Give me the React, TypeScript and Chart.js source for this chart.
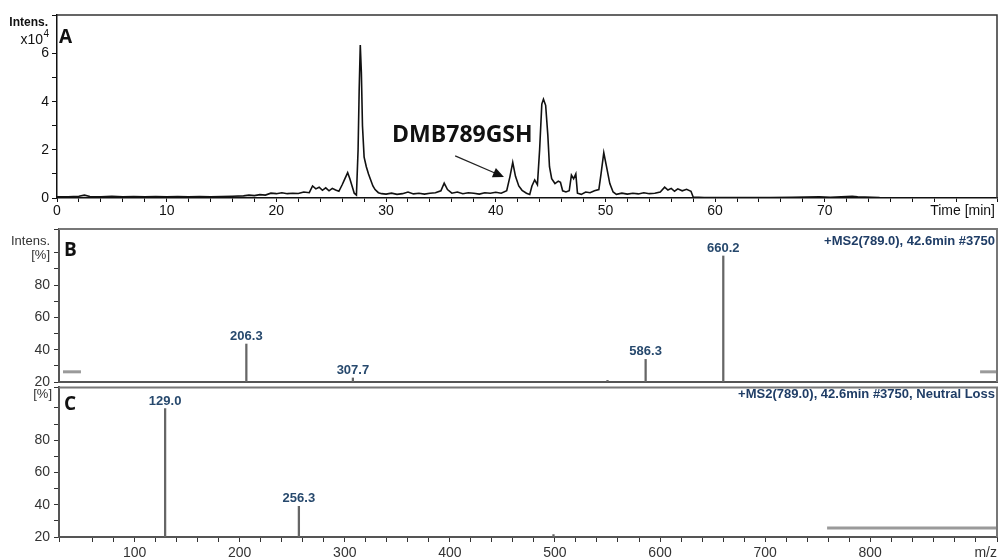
import React, { useEffect, useRef } from "react";
import { Chart, registerables } from "chart.js";
Chart.register(...registerables);

// ---------- Panel A: chromatogram (time in min, intensity x10^4) ----------
const chromTime = [
  0, 1, 2, 2.5, 3, 4, 5, 6, 7, 8, 9, 10, 11, 12, 13, 14, 15, 16, 17, 17.5, 18, 18.5, 19, 19.5,
  20, 20.5, 21, 21.5, 22, 22.5, 23, 23.3, 23.6, 23.9, 24.2, 24.5, 24.8, 25.1, 25.4, 25.7,
  26.0, 26.2, 26.5, 26.7, 26.9, 27.1, 27.3, 27.45, 27.55, 27.65, 27.75, 27.85, 28.0, 28.2,
  28.4, 28.6, 28.8, 29.0, 29.3, 29.6, 30, 30.5, 31, 31.5, 32, 32.5, 33, 33.5, 34, 34.5,
  35.0, 35.3, 35.6, 36, 36.5, 37, 37.5, 38, 38.5, 39, 39.5, 40, 40.5, 41.0, 41.3, 41.55,
  41.8, 42.1, 42.4, 42.8, 43.1, 43.3, 43.55, 43.8, 44.0, 44.2, 44.35, 44.55, 44.75, 44.9,
  45.1, 45.4, 45.7, 45.9, 46.1, 46.4, 46.7, 46.9, 47.1, 47.3, 47.45, 47.8, 48.2, 48.6,
  49.0, 49.4, 49.6, 49.85, 50.1, 50.4, 50.7, 51, 51.5, 52, 52.5, 53, 53.5, 54, 54.5, 55,
  55.4, 55.7, 56, 56.3, 56.6, 57, 57.4, 57.8, 58, 59, 61, 63, 65, 67, 69.5, 70.5, 72.5, 73, 75,
];
const chromIntensity = [
  0.05, 0.05, 0.07, 0.12, 0.06, 0.05, 0.07, 0.05, 0.06, 0.05, 0.06, 0.05, 0.06, 0.05, 0.06, 0.05, 0.06, 0.07, 0.09, 0.12, 0.1, 0.14, 0.12, 0.2,
  0.18, 0.22, 0.18, 0.2, 0.19, 0.25, 0.22, 0.5, 0.38, 0.45, 0.32, 0.42, 0.3, 0.4, 0.33, 0.28,
  0.55, 0.75, 1.05, 0.8, 0.5, 0.2, 0.12, 2.0, 4.5, 6.35, 5.2, 3.0, 1.7, 1.3,
  1.0, 0.75, 0.5, 0.35, 0.22, 0.18, 0.16, 0.2, 0.15, 0.18, 0.25, 0.17, 0.2, 0.16, 0.2, 0.22,
  0.3, 0.62, 0.35, 0.2, 0.25, 0.18, 0.22, 0.2, 0.16, 0.22, 0.2, 0.24, 0.2, 0.3, 0.9, 1.48,
  0.9, 0.5, 0.32, 0.2, 0.15, 0.5, 0.75, 0.55, 2.0, 3.9, 4.1, 3.85, 2.6, 1.3,
  0.8, 0.6, 0.7, 0.65, 0.3, 0.25, 0.3, 0.95, 0.8, 1.0, 0.2, 0.15, 0.25, 0.22,
  0.3, 0.35, 1.0, 1.88, 1.3, 0.6, 0.25, 0.15, 0.2, 0.16, 0.2, 0.17, 0.22, 0.18, 0.2, 0.25,
  0.45, 0.33, 0.4, 0.28, 0.38, 0.3, 0.36, 0.28, 0.04, 0.02, 0.02, 0.02, 0.02, 0.03, 0.05, 0.03, 0.07, 0.05, 0.02,
];
const timeLabelMax = 70;

// ---------- Panel B: MS2 spectrum ----------
const msBMz = [206.3, 307.7, 550.0, 586.3, 660.2];
const msBIntensity = [43.5, 22.5, 21.0, 34.0, 98.0];
const msBLabels = ["206.3", "307.7", "", "586.3", "660.2"];
const msBRangeLeft = [31.8, 48.9];
const msBRangeRight = [904.6, 920.7];
const msBRangeLevel = 26.3;

// ---------- Panel C: neutral loss spectrum ----------
const msCMz = [129.0, 256.3, 498.6];
const msCIntensity = [99.5, 39.0, 21.5];
const msCLabels = ["129.0", "256.3", ""];
const msCRange = [759.0, 920.7];
const msCRangeLevel = 25.5;
const mzLabelMax = 800;

const W = 1001;
const SANS = "'Liberation Sans', Arial, sans-serif";
const LABEL_BLUE = "#27496d";

function drawText(
  ctx: CanvasRenderingContext2D,
  s: string,
  x: number,
  y: number,
  font: string,
  color: string,
  align: CanvasTextAlign = "left"
) {
  ctx.save();
  ctx.font = font;
  ctx.fillStyle = color;
  ctx.textAlign = align;
  ctx.textBaseline = "alphabetic";
  ctx.fillText(s, x, y);
  ctx.restore();
}

function fixedAxis(size: number, dir: "w" | "h") {
  return (scale: any) => {
    if (dir === "w") scale.width = size;
    else scale.height = size;
  };
}

function makeA(canvas: HTMLCanvasElement) {
  const framePlugin = {
    id: "frameA",
    afterDraw(chart: any) {
      const { ctx, chartArea: ca, scales } = chart;
      ctx.save();
      ctx.strokeStyle = "#333";
      ctx.lineWidth = 1.5;
      ctx.beginPath();
      ctx.moveTo(ca.left, ca.top);
      ctx.lineTo(ca.right, ca.top);
      ctx.lineTo(ca.right, ca.bottom);
      ctx.stroke();
      ctx.restore();
      drawText(ctx, "Intens.", 48, 26, `bold 12px ${SANS}`, "#111", "right");
      drawText(ctx, "x10", 43, 44, `14px ${SANS}`, "#111", "right");
      drawText(ctx, "4", 43.5, 37, `10px ${SANS}`, "#111", "left");
      drawText(ctx, "A", 59, 43, `bold 19px 'Open Sans', sans-serif`, "#111");
      drawText(ctx, "Time [min]", 995, 215, `14px ${SANS}`, "#111", "right");
      // annotation
      const x = scales.x, y = scales.y;
      drawText(ctx, "DMB789GSH", x.getPixelForValue(30.55), y.getPixelForValue(2.33), `bold 23px 'Open Sans', sans-serif`, "#111");
      const x1 = x.getPixelForValue(36.3), y1 = y.getPixelForValue(1.75);
      const x2 = x.getPixelForValue(40.75), y2 = y.getPixelForValue(0.875);
      const ang = Math.atan2(y2 - y1, x2 - x1);
      ctx.save();
      ctx.strokeStyle = "#222";
      ctx.fillStyle = "#111";
      ctx.lineWidth = 1.2;
      ctx.beginPath();
      ctx.moveTo(x1, y1);
      ctx.lineTo(x2 - 8 * Math.cos(ang), y2 - 8 * Math.sin(ang));
      ctx.stroke();
      ctx.beginPath();
      ctx.moveTo(x2, y2);
      ctx.lineTo(x2 - 11 * Math.cos(ang) + 5 * Math.sin(ang), y2 - 11 * Math.sin(ang) - 5 * Math.cos(ang));
      ctx.lineTo(x2 - 11 * Math.cos(ang) - 5 * Math.sin(ang), y2 - 11 * Math.sin(ang) + 5 * Math.cos(ang));
      ctx.closePath();
      ctx.fill();
      ctx.restore();
    },
  };
  return new Chart(canvas, {
    type: "line",
    data: {
      datasets: [
        {
          data: chromTime.map((t, i) => ({ x: t, y: chromIntensity[i] })),
          borderColor: "#111",
          borderWidth: 1.6,
          pointRadius: 0,
          tension: 0,
        },
      ],
    },
    options: {
      responsive: false,
      animation: false,
      layout: { padding: { top: 15, right: 4, left: 0, bottom: 0 } },
      plugins: { legend: { display: false }, tooltip: { enabled: false } },
      scales: {
        x: {
          type: "linear",
          min: 0,
          max: 85.7,
          afterFit: fixedAxis(22, "h"),
          border: { display: true, color: "#111", width: 1.5 },
          grid: { drawOnChartArea: false, drawTicks: true, tickLength: 4, color: "#111" },
          ticks: {
            stepSize: 2,
            autoSkip: false,
            maxRotation: 0,
            padding: 1,
            color: "#111",
            font: { family: SANS, size: 14 },
            callback: (v: any) => (Math.abs(v % 10) < 1e-6 && v <= timeLabelMax ? String(v) : ""),
          },
        },
        y: {
          type: "linear",
          min: 0,
          max: 7.6,
          afterFit: fixedAxis(57, "w"),
          border: { display: true, color: "#111", width: 1.5 },
          grid: { drawOnChartArea: false, drawTicks: true, tickLength: 5, color: "#111" },
          ticks: {
            stepSize: 1,
            autoSkip: false,
            padding: 3,
            color: "#111",
            font: { family: SANS, size: 14 },
            callback: (v: any) => (Math.abs(v % 2) < 1e-6 && v <= 6 ? String(v) : ""),
          },
        },
      },
    },
    plugins: [framePlugin],
  });
}

function makeSpectrum(
  canvas: HTMLCanvasElement,
  cfg: {
    mz: number[];
    inten: number[];
    labels: string[];
    ranges: number[][];
    rangeLevel: number;
    padTop: number;
    xHeight: number;
    yMax: number;
    showX: boolean;
    letter: string;
    letterY: number;
    title: string;
    titleY: number;
    yTitles: { s: string; x: number; y: number }[];
  }
) {
  const plugin = {
    id: "spec" + cfg.letter,
    afterDraw(chart: any) {
      const { ctx, chartArea: ca, scales } = chart;
      ctx.save();
      ctx.strokeStyle = "#777";
      ctx.lineWidth = 2;
      ctx.beginPath();
      ctx.moveTo(ca.left, ca.top);
      ctx.lineTo(ca.right, ca.top);
      ctx.lineTo(ca.right, ca.bottom);
      ctx.stroke();
      ctx.restore();
      cfg.labels.forEach((l, i) => {
        if (!l) return;
        const px = scales.x.getPixelForValue(cfg.mz[i]);
        const py = scales.y.getPixelForValue(cfg.inten[i]);
        drawText(ctx, l, px, py - 4, `bold 13px ${SANS}`, LABEL_BLUE, "center");
      });
      drawText(ctx, cfg.letter, 64, cfg.letterY, `bold 19px 'Open Sans', sans-serif`, "#111");
      drawText(ctx, cfg.title, 995, cfg.titleY, `bold 13px ${SANS}`, "#1f3d66", "right");
      cfg.yTitles.forEach((t) => drawText(ctx, t.s, t.x, t.y, `13px ${SANS}`, "#333", "right"));
      if (cfg.showX) drawText(ctx, "m/z", 997, 557 - 375, `14px ${SANS}`, "#333", "right");
    },
  };
  const rangeSets = cfg.ranges.map((r) => ({
    type: "line" as const,
    data: r.map((m) => ({ x: m, y: cfg.rangeLevel })),
    borderColor: "#9a9a9a",
    borderWidth: 3,
    pointRadius: 0,
  }));
  return new Chart(canvas, {
    type: "bar",
    data: {
      datasets: [
        {
          type: "bar" as const,
          data: cfg.mz.map((m, i) => ({ x: m, y: cfg.inten[i] })),
          backgroundColor: "#666",
          barThickness: 1.6,
        } as any,
        ...rangeSets,
      ],
    },
    options: {
      responsive: false,
      animation: false,
      layout: { padding: { top: cfg.padTop, right: 4, left: 0, bottom: 0 } },
      plugins: { legend: { display: false }, tooltip: { enabled: false } },
      scales: {
        x: {
          type: "linear",
          min: 28,
          max: 920.7,
          offset: false,
          afterFit: fixedAxis(cfg.xHeight, "h"),
          border: { display: true, color: "#555", width: 2 },
          grid: { display: cfg.showX, drawOnChartArea: false, drawTicks: true, tickLength: 5, color: "#333", offset: false },
          ticks: {
            display: cfg.showX,
            stepSize: 20,
            autoSkip: false,
            maxRotation: 0,
            padding: 3,
            color: "#333",
            font: { family: SANS, size: 14 },
            callback: (v: any) => (Math.abs(v % 100) < 1e-6 && v <= mzLabelMax ? String(v) : ""),
          },
        },
        y: {
          type: "linear",
          min: 20,
          max: cfg.yMax,
          afterFit: fixedAxis(59, "w"),
          border: { display: true, color: "#555", width: 2 },
          grid: { drawOnChartArea: false, drawTicks: true, tickLength: 5, color: "#333" },
          ticks: {
            stepSize: 10,
            autoSkip: false,
            padding: 4,
            color: "#333",
            font: { family: SANS, size: 14 },
            callback: (v: any) => (Math.abs(v % 20) < 1e-6 && v <= 80 ? String(v) : ""),
          },
        },
      },
    },
    plugins: [plugin],
  });
}

export default function App() {
  const aRef = useRef<HTMLCanvasElement>(null);
  const bRef = useRef<HTMLCanvasElement>(null);
  const cRef = useRef<HTMLCanvasElement>(null);

  useEffect(() => {
    const a = makeA(aRef.current!);
    // B canvas top = 215
    const b = makeSpectrum(bRef.current!, {
      mz: msBMz,
      inten: msBIntensity,
      labels: msBLabels,
      ranges: [msBRangeLeft, msBRangeRight],
      rangeLevel: msBRangeLevel,
      padTop: 14,
      xHeight: 13,
      yMax: 114.7,
      showX: false,
      letter: "B",
      letterY: 256 - 215,
      title: "+MS2(789.0), 42.6min #3750",
      titleY: 245 - 215,
      yTitles: [
        { s: "Intens.", x: 50, y: 245 - 215 },
        { s: "[%]", x: 50, y: 259 - 215 },
      ],
    });
    // C canvas top = 375
    const c = makeSpectrum(cRef.current!, {
      mz: msCMz,
      inten: msCIntensity,
      labels: msCLabels,
      ranges: [msCRange],
      rangeLevel: msCRangeLevel,
      padTop: 9,
      xHeight: 22,
      yMax: 112.7,
      showX: true,
      letter: "C",
      letterY: 410 - 375,
      title: "+MS2(789.0), 42.6min #3750, Neutral Loss",
      titleY: 398 - 375,
      yTitles: [{ s: "[%]", x: 52, y: 398 - 375 }],
    });
    return () => {
      a.destroy();
      b.destroy();
      c.destroy();
    };
  }, []);

  const cv = (top: number, h: number) => ({
    position: "absolute" as const,
    left: 0,
    top,
    width: W,
    height: h,
  });

  return (
    <div style={{ position: "absolute", left: 0, top: 0, width: W, height: 559, background: "#fff", overflow: "hidden" }}>
      <canvas ref={aRef} width={W} height={220} style={cv(0, 220)} />
      <canvas ref={bRef} width={W} height={180} style={cv(215, 180)} />
      <canvas ref={cRef} width={W} height={184} style={cv(375, 184)} />
    </div>
  );
}
